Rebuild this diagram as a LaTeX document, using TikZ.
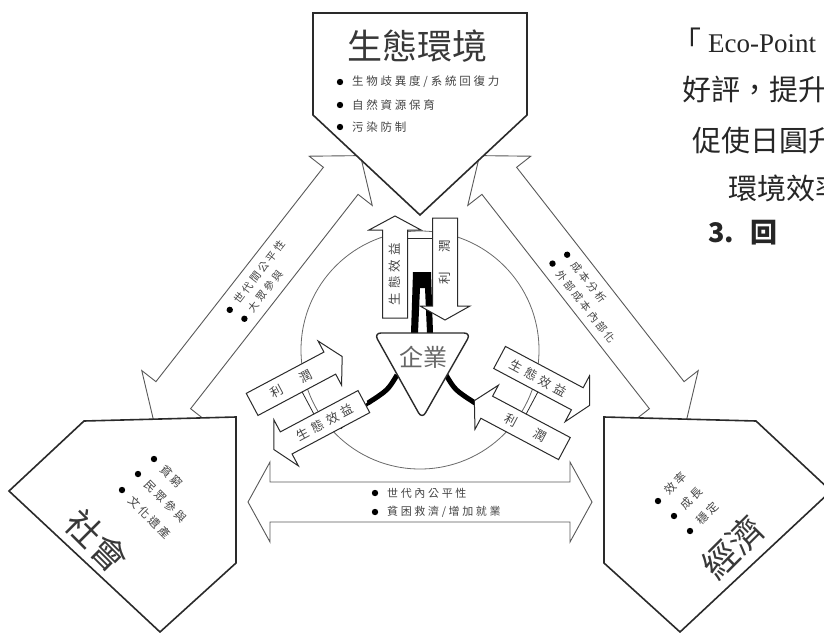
\documentclass[tikz,border=0pt]{standalone}
\usepackage{fontspec}
\setmainfont{Liberation Serif}
\newfontfamily\cjk{Noto Sans CJK TC}
\newfontfamily\cjks[LetterSpace=24]{Noto Sans CJK TC}
\newfontfamily\cjkp[LetterSpace=32]{Noto Sans CJK TC}
\definecolor{ink}{HTML}{2A2A2A}
\definecolor{txt}{HTML}{444444}
\definecolor{ring}{HTML}{6A6A6A}
\newcommand\DArrow[4]{%
  \draw[bigarr] (-#1,0) -- (-#1+#2,-#4) -- (-#1+#2,-#3) -- (#1-#2,-#3) -- (#1-#2,-#4) -- (#1,0)
    -- (#1-#2,#4) -- (#1-#2,#3) -- (-#1+#2,#3) -- (-#1+#2,#4) -- cycle;}
\newcommand\APair[2]{%
  \draw[smallarr] (-37.5,50) -- (-37.5,-38) -- (-51,-38) -- (-25,-52) -- (1,-38) -- (-12.5,-38) -- (-12.5,50) -- cycle;
  \draw[smallarr] (12.5,-50) -- (37.5,-50) -- (37.5,38) -- (50,38) -- (25,52) -- (0,38) -- (12.5,38) -- cycle;
  \draw[thinln] (-12.5,#2) -- (12.5,#2);
  \node[ptxt, rotate=#1, transform shape] at (-25,6) {生態效益};
  \node[ptxt, rotate=#1, transform shape] at (25,-6) {利\hspace{20pt}潤};}
\begin{document}
\begin{tikzpicture}[x=1pt,y=-1pt,
  penta/.style={draw=ink, line width=1.6pt, fill=white, line join=miter},
  bigarr/.style={draw=black!65, line width=0.9pt, fill=white, line join=miter},
  smallarr/.style={draw=ink, line width=1pt, fill=white, line join=miter},
  thinln/.style={draw=ink, line width=0.8pt},
  title/.style={font=\cjk\fontsize{35}{35}\selectfont, text=black!78, inner sep=0},
  item/.style={font=\cjks\fontsize{11.5}{12}\selectfont, text=txt, inner sep=0, anchor=west},
  ditem/.style={font=\cjks\fontsize{10.5}{11}\selectfont, text=txt, inner sep=0, anchor=west, transform shape},
  ptxt/.style={font=\cjkp\fontsize{12.5}{13}\selectfont, text=txt, inner sep=0},
  dot/.style={fill=black},
  para/.style={font=\cjk\fontsize{29}{29}\selectfont, text=black!85, inner sep=0, anchor=west}]
\useasboundingbox (0,0) rectangle (824,632);
\clip (0,0) rectangle (824,632);
\fill[white] (0,0) rectangle (824,632);

% ring
\draw[ring, line width=0.8pt] (420,350) circle (119);

% big double arrows
\begin{scope}[shift={(257,288)}, rotate=52]
  \DArrow{168}{32}{22}{40}
  \fill[dot] (-34,-8) circle (3.2);
  \node[ditem] (ulA) at (-24,-8) {世代間公平性};
  \fill[dot] (-32,9) circle (3.2);
  \node[ditem] (ulB) at (-22,9) {大眾參與};
\end{scope}
\begin{scope}[shift={(583,288)}, rotate=-52]
  \DArrow{168}{32}{22}{40}
  \fill[dot] (-36,-8) circle (3.2);
  \node[ditem] (urA) at (-26,-8) {成本分析};
  \fill[dot] (-38,9) circle (3.2);
  \node[ditem] (urB) at (-28,9) {外部成本內部化};
\end{scope}
\begin{scope}[shift={(420,502)}]
  \DArrow{172}{22}{20}{40}
  \fill[dot] (-45,-9) circle (3.2);
  \node[item, font=\cjks\fontsize{11}{12}\selectfont] (bA) at (-33,-9) {世代內公平性};
  \fill[dot] (-45,10) circle (3.2);
  \node[item, font=\cjks\fontsize{11}{12}\selectfont] (bB) at (-33,10) {貧困救濟/增加就業};
\end{scope}

% pentagons
\draw[penta] (313,13) -- (527,13) -- (527,115) -- (420,215) -- (313,115) -- cycle;
\node[title] (eco) at (417,46) {生態環境};
\fill[dot] (340,82) circle (3.2); \node[item] (e1) at (352,82) {生物歧異度/系統回復力};
\fill[dot] (340,105) circle (3.2); \node[item] (e2) at (352,105) {自然資源保育};
\fill[dot] (340,127) circle (3.2); \node[item] (e3) at (352,127) {污染防制};

\draw[penta] (9,491) -- (84,421) -- (236,417) -- (236,563) -- (160,632) -- cycle;
\node[title, rotate=-45] (soc) at (97,541) {社會};
\fill[dot] (154,459) circle (3.2); \node[item, rotate=-45] (s1) at (162,467) {貧窮};
\fill[dot] (138,474) circle (3.2); \node[item, rotate=-45] (s2) at (146,482) {民眾參與};
\fill[dot] (122,490) circle (3.2); \node[item, rotate=-45] (s3) at (130,498) {文化遺產};

\draw[penta] (831,491) -- (756,421) -- (604,417) -- (604,563) -- (680,632) -- cycle;
\node[title, rotate=45] (econ) at (733,547) {經濟};
\fill[dot] (658,501) circle (3.2); \node[item, rotate=45] (c1) at (666,493) {效率};
\fill[dot] (674,516) circle (3.2); \node[item, rotate=45] (c2) at (682,508) {成長};
\fill[dot] (690,531) circle (3.2); \node[item, rotate=45] (c3) at (698,523) {穩定};

% black bonds
\fill[black] (411,333) -- (413,272) -- (431,272) -- (433,333) -- (427,333) -- (425,288) -- (420,288) -- (418,333) -- cycle;
\draw[black, line width=5pt] (397,375) .. controls (388,390) .. (368,403);
\draw[black, line width=3pt] (370,402) -- (340,428);
\draw[black, line width=5pt] (446,375) .. controls (455,390) .. (475,403);
\draw[black, line width=3pt] (473,402) -- (500,425);

% small arrow pairs
\begin{scope}[shift={(420,268)}]
  \APair{90}{-30}
\end{scope}
\begin{scope}[shift={(308,403)}, rotate=118]
  \APair{-90}{0}
\end{scope}
\begin{scope}[shift={(532,403)}, rotate=-118]
  \APair{90}{0}
\end{scope}

% enterprise
\draw[smallarr, line width=1.4pt, rounded corners=7pt] (374,333) -- (471,333) -- (422,419) -- cycle;
\node[font=\cjk\fontsize{24}{24}\selectfont, text=black!60, inner sep=0] (firm) at (423,357) {企業};

% paragraph fragment
\node[para] (p1) at (672,40) {「\hspace{7pt}{\rmfamily\fontsize{27}{28}\selectfont Eco-Point}};
\node[para] (p2) at (682,89) {好評，提升};
\node[para] (p3) at (692,141) {促使日圓升};
\node[para] (p4) at (728,188) {環境效率};
\node[para, font=\cjk\bfseries\fontsize{27}{27}\selectfont] (p5) at (708,233) {3.\hspace{16pt}回};
\end{tikzpicture}
\end{document}
